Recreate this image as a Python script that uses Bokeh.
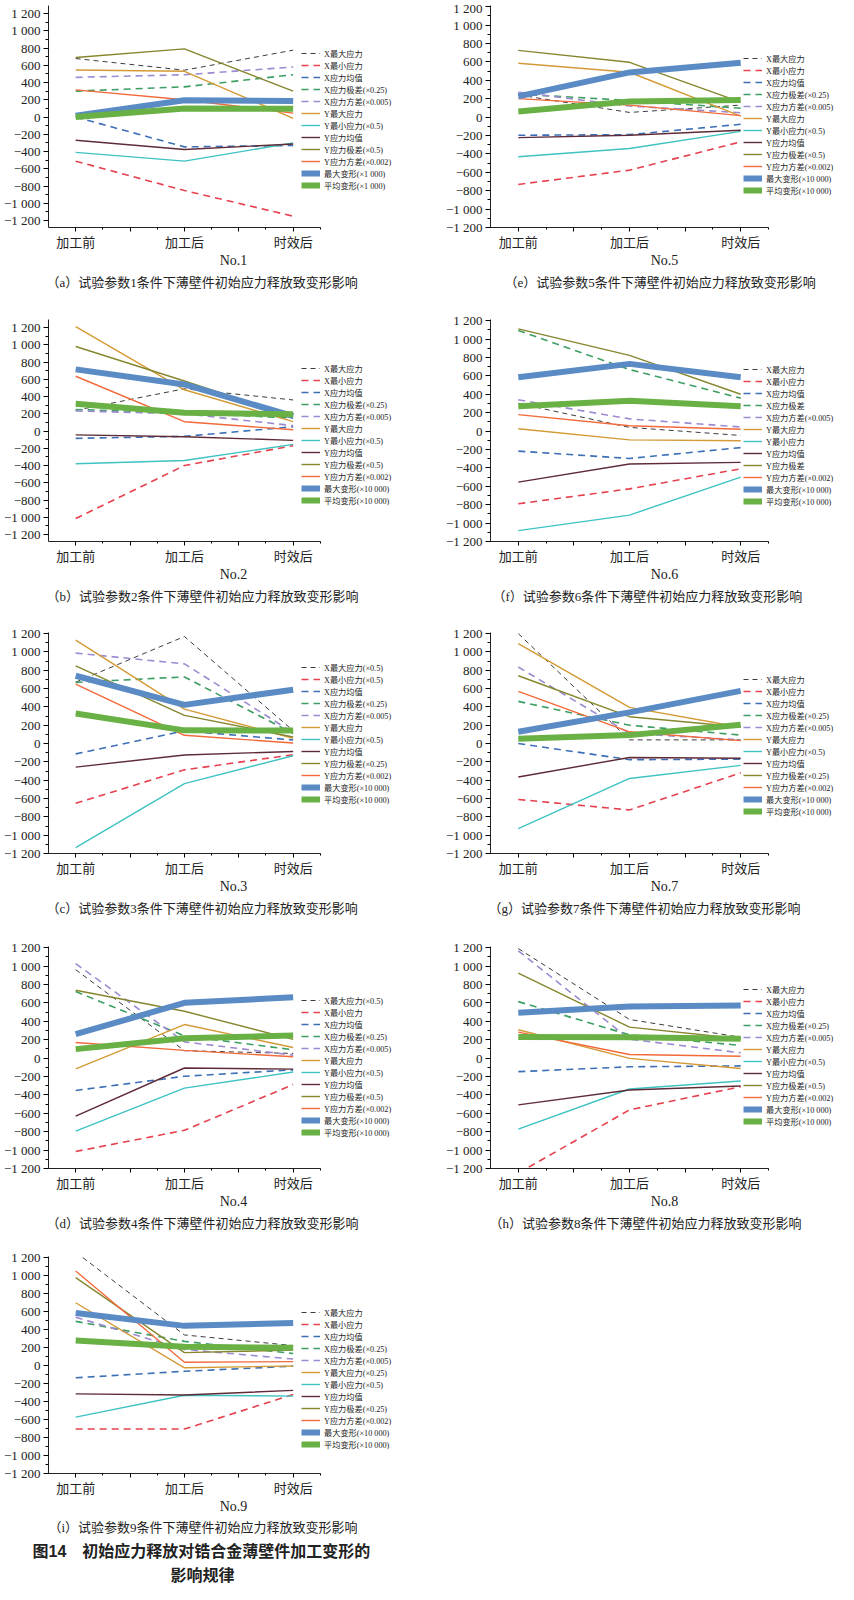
from bokeh.plotting import figure
from bokeh.models import FixedTicker, Legend, LegendItem, Title, Range1d
from bokeh.layouts import column, row
from bokeh.embed import file_html
from bokeh.resources import INLINE

# ---------------- data ----------------
stages = ["加工前", "加工后", "时效后"]
stage_pos = [0, 1, 2]

y_ticks = [-1200, -1000, -800, -600, -400, -200, 0, 200, 400, 600, 800, 1000, 1200]
y_tick_labels = ["−1 200", "−1 000", "−800", "−600", "−400", "−200", "0",
                 "200", "400", "600", "800", "1 000", "1 200"]

# order of series in each panel:
# X最大应力, X最小应力, X应力均值, X应力极差, X应力方差,
# Y最大应力, Y最小应力, Y应力均值, Y应力极差, Y应力方差, 最大变形, 平均变形
no1 = [[678, 543, 775], [-512, -852, -1150], [0, -346, -330], [300, 350, 490],
       [460, 490, 580], [545, 530, -15], [-410, -512, -300], [-270, -377, -312],
       [690, 790, 300], [315, 200, 45], [15, 195, 185], [0, 100, 95]]
no1_labels = ["X最大应力", "X最小应力", "X应力均值", "X应力极差(×0.25)", "X应力方差(×0.005)",
              "Y最大应力", "Y最小应力(×0.5)", "Y应力均值", "Y应力极差(×0.5)", "Y应力方差(×0.002)",
              "最大变形(×1 000)", "平均变形(×1 000)"]

no2 = [[240, 490, 360], [-1015, -400, -170], [-85, -62, 50], [250, 210, 150],
       [232, 200, 62], [1210, 478, 108], [-380, -342, -155], [-45, -66, -108],
       [980, 580, 165], [635, 108, 14], [715, 540, 172], [315, 212, 195]]
no2_labels = ["X最大应力", "X最小应力", "X应力均值", "X应力极差(×0.25)", "X应力方差(×0.005)",
              "Y最大应力", "Y最小应力(×0.5)", "Y应力均值", "Y应力极差(×0.5)", "Y应力方差(×0.002)",
              "最大变形(×10 000)", "平均变形(×10 000)"]

no3 = [[670, 1168, 140], [-652, -287, -122], [-113, 138, 39], [668, 727, 110],
       [987, 870, 118], [1128, 376, 57], [-1135, -437, -133], [-257, -125, -86],
       [848, 308, 72], [648, 90, 6], [740, 422, 588], [328, 144, 142]]
no3_labels = ["X最大应力(×0.5)", "X最小应力(×0.5)", "X应力均值", "X应力极差(×0.25)", "X应力方差(×0.005)",
              "Y最大应力", "Y最小应力(×0.5)", "Y应力均值", "Y应力极差(×0.25)", "Y应力方差(×0.002)",
              "最大变形(×10 000)", "平均变形(×10 000)"]

no4 = [[960, 80, 50], [-1015, -785, -288], [-352, -198, -128], [722, 241, 90],
       [1025, 176, 32], [-118, 364, 115], [-794, -327, -152], [-632, -108, -120],
       [737, 508, 203], [169, 83, 14], [259, 600, 661], [97, 214, 246]]
no4_labels = ["X最大应力(×0.5)", "X最小应力", "X应力均值", "X应力极差(×0.25)", "X应力方差(×0.005)",
              "Y最大应力", "Y最小应力(×0.5)", "Y应力均值", "Y应力极差(×0.5)", "Y应力方差(×0.002)",
              "最大变形(×10 000)", "平均变形(×10 000)"]

no5 = [[240, 50, 130], [-732, -577, -270], [-198, -191, -79], [250, 180, 95],
       [270, 120, 47], [584, 487, 11], [-432, -342, -155], [-223, -198, -144],
       [725, 595, 162], [200, 130, 15], [225, 485, 590], [60, 170, 185]]
no5_labels = ["X最大应力", "X最小应力", "X应力均值", "X应力极差(×0.25)", "X应力方差(×0.005)",
              "Y最大应力", "Y最小应力(×0.5)", "Y应力均值", "Y应力极差(×0.5)", "Y应力方差(×0.002)",
              "最大变形(×10 000)", "平均变形(×10 000)"]

no6 = [[300, 40, -48], [-790, -628, -410], [-218, -298, -180], [1092, 668, 358],
       [340, 132, 44], [25, -96, -106], [-1082, -913, -500], [-555, -358, -340],
       [1110, 822, 400], [178, 58, 20], [585, 730, 585], [270, 330, 270]]
no6_labels = ["X最大应力", "X最小应力", "X应力均值", "X应力极差", "X应力方差(×0.005)",
              "Y最大应力", "Y最小应力", "Y应力均值", "Y应力极差", "Y应力方差(×0.002)",
              "最大变形(×10 000)", "平均变形(×10 000)"]

no7 = [[1200, 40, 40], [-610, -725, -320], [0, -176, -170], [460, 200, 92],
       [835, 110, 40], [1090, 395, 178], [-928, -381, -238], [-365, -152, -160],
       [740, 293, 180], [570, 128, 32], [128, 340, 575], [52, 92, 205]]
no7_labels = ["X最大应力", "X最小应力", "X应力均值", "X应力极差(×0.25)", "X应力方差(×0.005)",
              "Y最大应力", "Y最小应力(×0.5)", "Y应力均值", "Y应力极差(×0.25)", "Y应力方差(×0.002)",
              "最大变形(×10 000)", "平均变形(×10 000)"]

no8 = [[1190, 419, 226], [-1250, -563, -311], [-148, -95, -85], [613, 252, 137],
       [1165, 205, 57], [308, -4, -113], [-772, -336, -250], [-509, -347, -304],
       [923, 336, 210], [282, 38, 20], [491, 559, 570], [228, 225, 210]]
no8_labels = ["X最大应力", "X最小应力", "X应力均值", "X应力极差(×0.25)", "X应力方差(×0.005)",
              "Y最大应力", "Y最小应力(×0.5)", "Y应力均值", "Y应力极差(×0.5)", "Y应力方差(×0.002)",
              "最大变形(×10 000)", "平均变形(×10 000)"]

no9 = [[1260, 340, 222], [-706, -706, -322], [-136, -64, -7], [491, 269, 133],
       [537, 179, 72], [698, -25, -5], [-573, -330, -340], [-315, -328, -276],
       [978, 143, 172], [1050, 36, 43], [584, 441, 473], [279, 208, 197]]
no9_labels = ["X最大应力", "X最小应力", "X应力均值", "X应力极差(×0.25)", "X应力方差(×0.005)",
              "Y最大应力(×0.25)", "Y最小应力(×0.5)", "Y应力均值", "Y应力极差(×0.25)", "Y应力方差(×0.002)",
              "最大变形(×10 000)", "平均变形(×10 000)"]

captions = {
    1: "（a）试验参数1条件下薄壁件初始应力释放致变形影响",
    2: "（b）试验参数2条件下薄壁件初始应力释放致变形影响",
    3: "（c）试验参数3条件下薄壁件初始应力释放致变形影响",
    4: "（d）试验参数4条件下薄壁件初始应力释放致变形影响",
    5: "（e）试验参数5条件下薄壁件初始应力释放致变形影响",
    6: "（f）试验参数6条件下薄壁件初始应力释放致变形影响",
    7: "（g）试验参数7条件下薄壁件初始应力释放致变形影响",
    8: "（h）试验参数8条件下薄壁件初始应力释放致变形影响",
    9: "（i）试验参数9条件下薄壁件初始应力释放致变形影响",
}
fig_title_1 = "图14　初始应力释放对锆合金薄壁件加工变形的"
fig_title_2 = "影响规律"

# ---------------- styles ----------------
styles = [
    dict(color="#3c3c3c", dash="5 4", width=1.0),
    dict(color="#e5414e", dash="7 5", width=1.6),
    dict(color="#3d6fb6", dash="7 5", width=1.6),
    dict(color="#3c9e63", dash="7 5", width=1.6),
    dict(color="#9d8ad0", dash="7 5", width=1.6),
    dict(color="#d49a35", dash="solid", width=1.4),
    dict(color="#3ec2c2", dash="solid", width=1.4),
    dict(color="#5e2b37", dash="solid", width=1.4),
    dict(color="#86862e", dash="solid", width=1.4),
    dict(color="#f2693a", dash="solid", width=1.4),
    dict(color="#5a8bc5", dash="solid", width=6),
    dict(color="#6ab145", dash="solid", width=6),
]

SERIF = "Liberation Serif"
MIX = "Liberation Serif, Noto Sans CJK SC"
MIXSANS = "Liberation Sans, Noto Sans CJK SC"
TXT = "#222222"


def make_panel(num, values, labels, small_scale, left_col, height, top, leg_y, cap_off, final=False):
    if left_col:
        width, bl, fw = 418, 41, 277
        leg_x = 253
    else:
        width, bl, fw = 420, 72, 278
        leg_x = 253
    frame_w = width - bl
    x_end = -0.25 + 2.5 * frame_w / fw
    if small_scale:
        yr = (-1281, 1293)
        fh = 222
    else:
        yr = (-1200, 1212)
        fh = 224
    bb = height - top - fh
    p = figure(width=width, height=height, x_range=Range1d(-0.25, x_end), y_range=Range1d(*yr),
               output_backend="svg", toolbar_location=None,
               min_border_left=bl, min_border_right=0, min_border_top=top, min_border_bottom=bb)
    p.outline_line_color = None
    p.xgrid.visible = False
    p.ygrid.visible = False

    items = []
    for vals, lab, st in zip(values, labels, styles):
        r = p.line(stage_pos, vals, line_color=st["color"], line_width=st["width"],
                   line_dash=st["dash"])
        items.append(LegendItem(label=lab, renderers=[r]))
    leg = Legend(items=items, location=(leg_x, leg_y), label_text_font=MIX,
                 label_text_font_size="8.2px", label_text_color=TXT,
                 label_text_line_height=1.0,
                 glyph_width=19, glyph_height=12, label_height=12, spacing=0,
                 padding=0, margin=0, label_standoff=4,
                 border_line_alpha=0, background_fill_alpha=0)
    p.add_layout(leg)

    # x axis
    xa = p.xaxis[0]
    xa.bounds = (-0.25, 2.25)
    xa.ticker = FixedTicker(ticks=[0, 0.5, 1, 1.5, 2], minor_ticks=[0.25, 0.75, 1.25, 1.75, 2.25])
    xa.major_label_overrides = {0: stages[0], 0.5: "", 1: stages[1], 1.5: "", 2: stages[2]}
    xa.major_label_text_font = MIX
    xa.major_label_text_font_size = "13px"
    xa.major_label_text_color = TXT
    xa.major_tick_in = 0
    xa.major_tick_out = 4
    xa.minor_tick_in = 0
    xa.minor_tick_out = 2
    xa.major_label_standoff = 3
    xa.axis_label = "No.%d" % num
    xa.axis_label_text_font = SERIF
    xa.axis_label_text_font_size = "14px"
    xa.axis_label_text_font_style = "normal"
    xa.axis_label_text_color = TXT
    xa.axis_label_standoff = 0
    xa.axis_line_color = TXT

    # y axis
    ya = p.yaxis[0]
    ya.ticker = FixedTicker(ticks=y_ticks, minor_ticks=list(range(-1300, 1301, 100)))
    ya.major_label_overrides = dict(zip(y_ticks, y_tick_labels))
    ya.major_label_text_font = SERIF
    ya.major_label_text_font_size = "13px"
    ya.major_label_text_color = TXT
    ya.major_tick_in = 0
    ya.major_tick_out = 5
    ya.minor_tick_in = 0
    ya.minor_tick_out = 3
    ya.major_label_standoff = 3
    ya.axis_line_color = TXT

    p.add_layout(Title(text=captions[num], align="left", offset=cap_off, text_font=MIX,
                       text_font_size="13px", text_font_style="normal", text_color=TXT,
                       standoff=4 if not final else 3), "below")
    if final:
        p.add_layout(Title(text=fig_title_1, align="left", offset=-16, text_font=MIXSANS,
                           text_font_size="16px", text_font_style="bold", text_color=TXT,
                           standoff=8), "below")
        p.add_layout(Title(text=fig_title_2, align="left", offset=122, text_font=MIXSANS,
                           text_font_size="16px", text_font_style="bold", text_color=TXT,
                           standoff=2), "below")
    return p


pa = make_panel(1, no1, no1_labels, True, True, 310, 5, 36, -2)
pe = make_panel(5, no5, no5_labels, False, False, 310, 5, 31, 14)
pb = make_panel(2, no2, no2_labels, True, True, 310, 9, 35, -2)
pf = make_panel(6, no6, no6_labels, False, False, 310, 9, 34, 2)
pc = make_panel(3, no3, no3_labels, False, True, 315, 9, 48, -2)
pg = make_panel(7, no7, no7_labels, False, False, 315, 12, 36, -2)
pd = make_panel(4, no4, no4_labels, False, True, 312, 9, 30, -2)
ph = make_panel(8, no8, no8_labels, False, False, 312, 11, 41, -1)
pi = make_panel(9, no9, no9_labels, False, True, 337, 9, 23, 0, final=True)

layout = column(row(pa, pe), row(pb, pf), row(pc, pg), row(pd, ph), pi)

open("out.html", "w").write(file_html(layout, INLINE))
